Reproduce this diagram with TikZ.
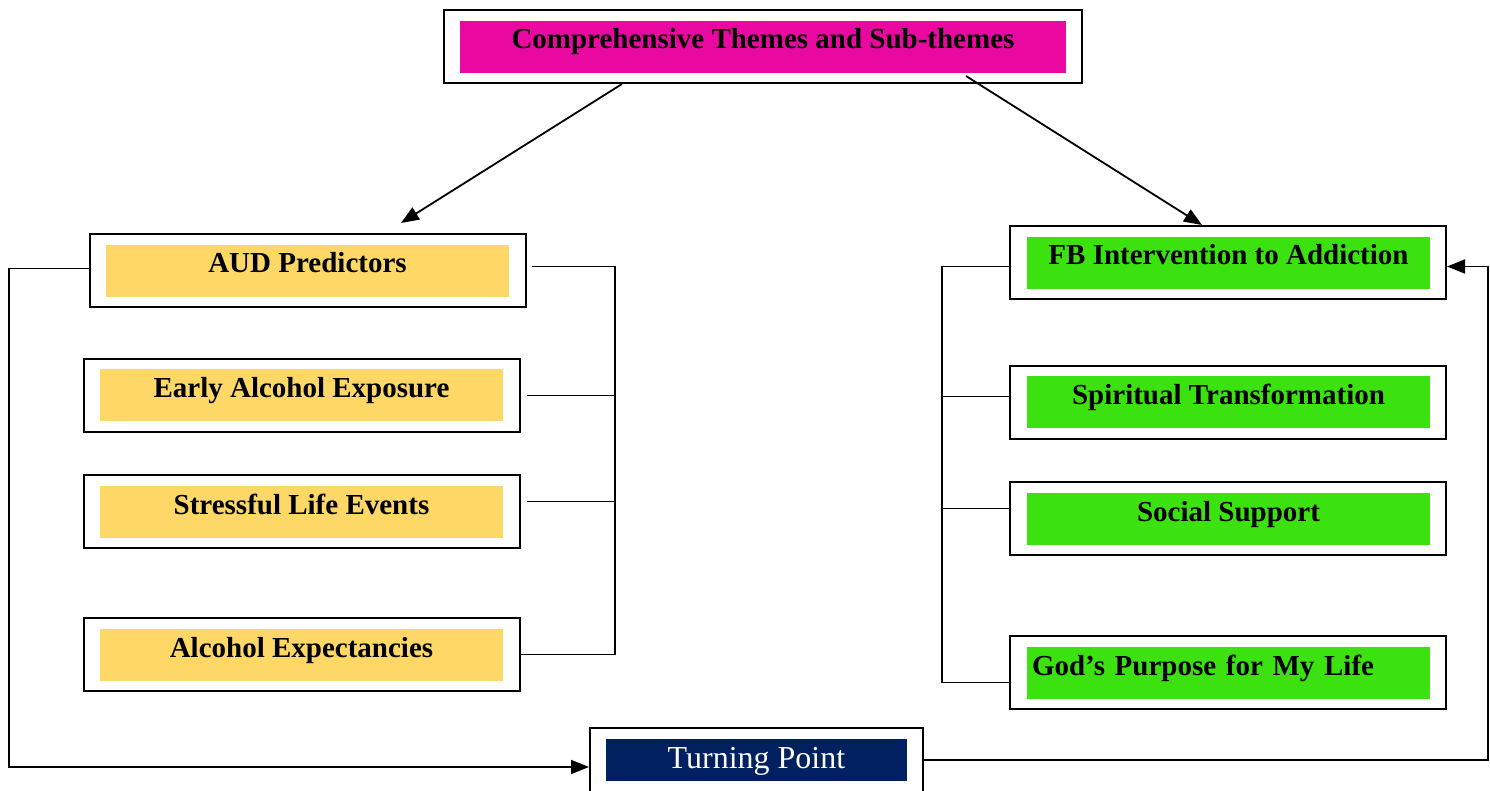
\documentclass[tikz,border=0pt]{standalone}
\usepackage{fontspec}
\setmainfont{Liberation Serif}
\usetikzlibrary{arrows.meta}

\definecolor{themepink}{RGB}{233,9,160}
\definecolor{predyellow}{RGB}{253,216,102}
\definecolor{fbgreen}{RGB}{60,226,16}
\definecolor{turnnavy}{RGB}{0,32,96}

\tikzset{
  outbox/.style={draw,line width=1pt,minimum width=218pt,minimum height=36.5pt,inner sep=0pt},
  inbox/.style={minimum width=201.5pt,inner sep=0pt,outer sep=0pt,text height=14pt,text depth=12pt,
    font=\fontsize{14.5}{16}\selectfont\bfseries},
  link/.style={line width=0.9pt},
  arrowline/.style={link,-{Triangle[length=9pt,width=7pt]}}
}

\begin{document}
\begin{tikzpicture}[x=0.5pt,y=-0.5pt]

  \useasboundingbox (0,0) rectangle (1490,791);

  % title
  \node (top) at (763,46.5) [outbox,minimum width=319pt] {};
  \node (topin) at (763,47) [inbox,fill=themepink,minimum width=303pt] {Comprehensive Themes and Sub-themes};

  % left column
  \node (aud) at (308,270.5) [outbox] {};
  \node (audin) at (307.5,271) [inbox,fill=predyellow] {AUD Predictors};
  \node (early) at (301.5,395.5) [outbox] {};
  \node (earlyin) at (301.5,395.5) [inbox,fill=predyellow] {Early Alcohol Exposure};
  \node (stress) at (301.5,511.5) [outbox] {};
  \node (stressin) at (301.5,512) [inbox,fill=predyellow] {Stressful Life Events};
  \node (expect) at (301.5,654.5) [outbox] {};
  \node (expectin) at (301.5,655) [inbox,fill=predyellow] {Alcohol Expectancies};

  % right column
  \node (fb) at (1228,262.5) [outbox] {};
  \node (fbin) at (1228.5,263) [inbox,fill=fbgreen] {FB Intervention to Addiction};
  \node (spirit) at (1228,402.5) [outbox] {};
  \node (spiritin) at (1228.5,402.5) [inbox,fill=fbgreen] {Spiritual Transformation};
  \node (social) at (1228,518.5) [outbox] {};
  \node (socialin) at (1228.5,519) [inbox,fill=fbgreen] {Social Support};
  \node (god) at (1228,672.5) [outbox] {};
  \node (godin) at (1228.5,673) [inbox,fill=fbgreen,inner xsep=2.5pt,text width=196.5pt,align=left] {God’s Purpose for My Life};

  % turning point
  \node (turn) at (756.5,760) [outbox,minimum width=166.5pt,minimum height=32pt] {};
  \node (turnin) at (756.5,760) [inbox,fill=turnnavy,text=white,minimum width=150.5pt,
    text height=14.5pt,text depth=6.5pt,font=\fontsize{16}{18}\selectfont] {Turning Point};

  \coordinate (lbus) at (615,0);
  \coordinate (rbus) at (942,0);
  \coordinate (louter) at (9,0);
  \coordinate (router) at (1488,0);

  % arrows from the title
  \draw[arrowline] ([xshift=-70.5pt]top.south) -- ([xshift=46.5pt,yshift=5pt]aud.north);
  \draw[arrowline] ([xshift=101.5pt,yshift=4pt]top.south) -- ([xshift=-13pt]fb.north);

  % left bracket
  \draw[link] ([xshift=2.5pt,yshift=2pt]aud.east) -- ([yshift=2pt]aud.east -| lbus) -- (expect.east -| lbus) -- (expect.east);
  \draw[link] ([xshift=3pt]early.east) -- (early.east -| lbus);
  \draw[link] ([xshift=3pt,yshift=5pt]stress.east) -- ([yshift=5pt]stress.east -| lbus);

  % right bracket
  \draw[link] ([yshift=-2pt]fb.west) -- ([yshift=-2pt]fb.west -| rbus) -- ([yshift=-5pt]god.west -| rbus) -- ([yshift=-5pt]god.west);
  \draw[link] ([yshift=3pt]spirit.west) -- ([yshift=3pt]spirit.west -| rbus);
  \draw[link] ([yshift=5pt]social.west) -- ([yshift=5pt]social.west -| rbus);

  % loop through the turning point
  \draw[arrowline] ([yshift=1pt]aud.west) -- ([yshift=1pt]aud.west -| louter) -- ([yshift=-3.5pt]turn.west -| louter) -- ([yshift=-3.5pt]turn.west);
  \draw[arrowline] (turn.east) -- (turn.east -| router) -- ([yshift=-2pt]fb.east -| router) -- ([yshift=-2pt]fb.east);

\end{tikzpicture}
\end{document}
